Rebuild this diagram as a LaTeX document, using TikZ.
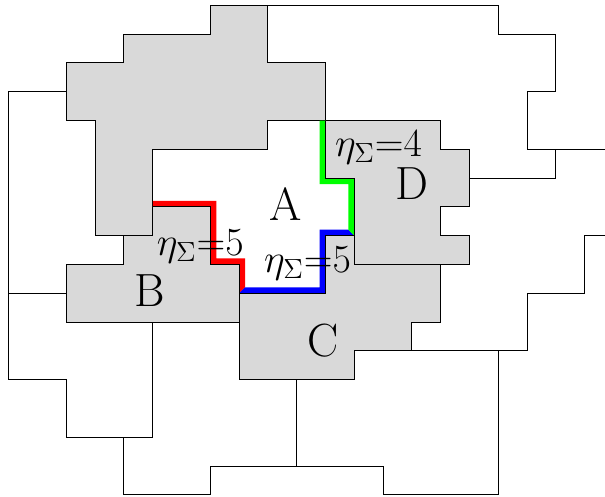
\documentclass[tikz,border=0pt]{standalone}
\definecolor{regionGray}{RGB}{217,217,217}
\definecolor{edgeGreen}{RGB}{0,255,0}
\tikzset{
  region/.style={draw=black,fill=regionGray,line width=0.5pt,line join=miter},
  outline/.style={draw=black,line width=0.5pt},
  lbl/.style={inner sep=0pt,font=\fontsize{23}{27}\selectfont},
  etalbl/.style={inner sep=0pt,font=\huge,scale=0.95}
}
\newcommand{\etasum}[1]{$\eta_\Sigma{=}#1$}
\begin{document}
\begin{tikzpicture}[x=0.5cm,y=-0.5cm]
\useasboundingbox (-0.305,-0.184) rectangle (20.702,17.039);
\path[region] (7,0) -- (9,0) -- (9,2) -- (11,2) -- (11,4) -- (9,4) -- (9,5) -- (5,5) -- (5,8) -- (3,8) -- (3,4) -- (2,4) -- (2,2) -- (4,2) -- (4,1) -- (7,1) -- cycle;
\path[region] (5,7) -- (7,7) -- (7,9) -- (8,9) -- (8,11) -- (2,11) -- (2,9) -- (4,9) -- (4,8) -- (5,8) -- cycle;
\path[region] (8,10) -- (11,10) -- (11,8) -- (12,8) -- (12,9) -- (15,9) -- (15,11) -- (14,11) -- (14,12) -- (12,12) -- (12,13) -- (8,13) -- cycle;
\path[region] (11,4) -- (15,4) -- (15,5) -- (16,5) -- (16,7) -- (15,7) -- (15,8) -- (16,8) -- (16,9) -- (12,9) -- (12,6) -- (11,6) -- cycle;
\fill[red] (5,7) -- (7,7) -- (7,9) -- (8,9) -- (8,10) -- (8.21,9.79) -- (8.21,8.79) -- (7.21,8.79) -- (7.21,6.79) -- (5,6.79) -- cycle;
\fill[blue] (8,10) -- (11,10) -- (11,8) -- (12,8) -- (11.79,7.79) -- (10.79,7.79) -- (10.79,9.79) -- (8.21,9.79) -- cycle;
\fill[edgeGreen] (11,4) -- (11,6) -- (12,6) -- (12,8) -- (11.79,7.79) -- (11.79,6.21) -- (10.79,6.21) -- (10.79,4) -- cycle;
\draw[outline] (5,7) -- (7,7) -- (7,9) -- (8,9) -- (8,10) -- (11,10) -- (11,8) -- (12,8) -- (12,6) -- (11,6) -- (11,4);
\draw[outline] (9,0) -- (17,0) -- (17,1) -- (19,1) -- (19,3) -- (18,3) -- (18,5) -- (20.702,5);
\draw[outline] (19,5) -- (19,6) -- (16,6);
\draw[outline] (20.702,8) -- (20,8) -- (20,10) -- (18,10) -- (18,12) -- (12,12);
\draw[outline] (17,12) -- (17,17) -- (13,17) -- (13,16) -- (7,16) -- (7,17) -- (4,17) -- (4,15) -- (2,15) -- (2,13) -- (0,13) -- (0,3) -- (2,3);
\draw[outline] (0,10) -- (2,10);
\draw[outline] (5,11) -- (5,15) -- (4,15);
\draw[outline] (10,13) -- (10,16);
\node[lbl] (labelA) at (9.62,6.9) {A};
\node[lbl] (labelB) at (4.9,9.9) {B};
\node[lbl] (labelC) at (10.9,11.63) {C};
\node[lbl] (labelD) at (14,6.18) {D};
\node[etalbl] (etaD) at (12.84,4.95) {\etasum{4}};
\node[etalbl] (etaB) at (6.65,8.38) {\etasum{5}};
\node[etalbl] (etaC) at (10.37,8.97) {\etasum{5}};
\end{tikzpicture}
\end{document}
